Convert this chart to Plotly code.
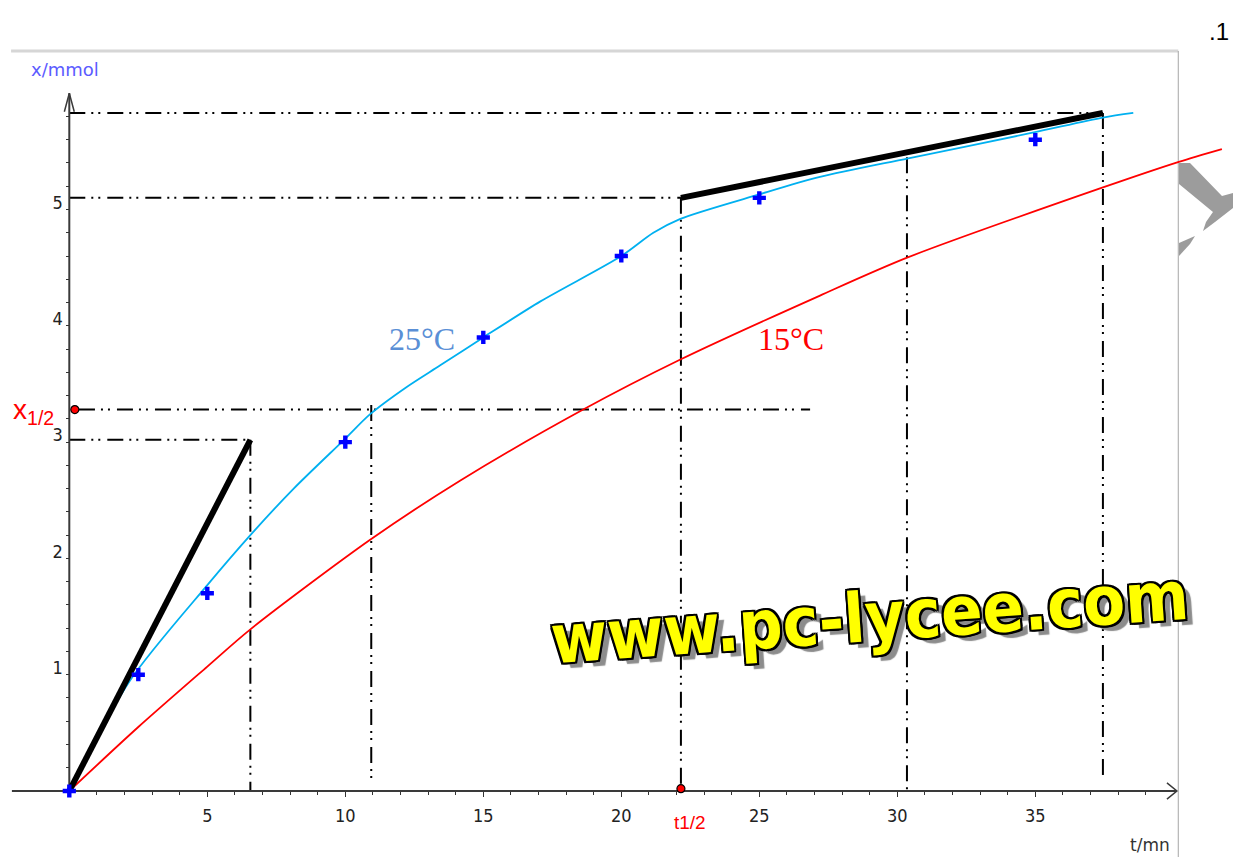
import plotly.graph_objects as go

# ---------------- data ----------------
# measured points at 25 °C (t in min, x in mmol)
t_meas = [0, 2.5, 5, 10, 15, 20, 25, 35]
x_meas = [0, 1.0, 1.7, 3.0, 3.9, 4.6, 5.1, 5.6]

# fitted curve 25 °C
t_25 = [0, 2.2, 5, 6.56, 8.13, 10, 10.9, 12.2, 13.44, 15, 17.07, 20, 21.16,
        22.14, 25, 27.2, 30.4, 34.9, 37.45, 38.55]
x_25 = [0, 0.95, 1.77, 2.20, 2.60, 3.03, 3.24, 3.47, 3.66, 3.90, 4.21, 4.60,
        4.80, 4.92, 5.13, 5.28, 5.44, 5.66, 5.79, 5.83]

# curve 15 °C
t_15 = [0, 2.5, 5, 6.56, 10.9, 14.17, 18.62, 22.14, 27.2, 30.4,
        37.45, 40.2, 41.76]
x_15 = [0, 0.55, 1.07, 1.39, 2.16, 2.67, 3.28, 3.71, 4.26, 4.59,
        5.19, 5.41, 5.52]

# tangents
t_tan1 = [0, 6.56]
x_tan1 = [0, 3.02]
t_tan2 = [22.16, 37.45]
x_tan2 = [5.10, 5.83]

# construction lines: horizontal (y, t_start, t_end), vertical (t, y_start, y_end)
h_lines = [(5.83, 0, 37.45), (5.10, 0, 22.16), (3.28, 0.35, 26.84), (3.02, 0, 6.56)]
v_lines = [(6.56, 0, 3.02), (10.94, 0.11, 3.32), (22.16, 0, 5.10),
           (30.35, 0, 5.45), (37.45, 0.095, 5.83)]

# half reaction markers
x_half = 3.28
t_half = 22.16

# ticks
x_ticks = [5, 10, 15, 20, 25, 30, 35]
y_ticks = [1, 2, 3, 4, 5]
x_minor = list(range(1, 40))
y_minor = [round(0.2 * i, 1) for i in range(1, 30)]

# ---------------- figure ----------------
X_RANGE = [-2.511, 42.163]
Y_RANGE = [-0.5675, 6.8014]
T_AX_END = 40.13
T_AX_START = -2.08
Y_AX_END = 6.0

DASH = "16px,6px,2px,5px,2px,7px"
fig = go.Figure()

for (yv, t0, t1) in h_lines:
    fig.add_trace(go.Scatter(x=[t0, t1], y=[yv, yv], mode="lines",
                             line=dict(color="black", width=2, dash=DASH),
                             hoverinfo="skip", showlegend=False))
for (tv, y0, y1) in v_lines:
    fig.add_trace(go.Scatter(x=[tv, tv], y=[y1, y0], mode="lines",
                             line=dict(color="black", width=2, dash=DASH),
                             hoverinfo="skip", showlegend=False))

# axes lines with open arrowheads
fig.add_trace(go.Scatter(x=[T_AX_START, T_AX_END], y=[0, 0], mode="lines",
                         line=dict(color="#3a3a3a", width=2),
                         hoverinfo="skip", showlegend=False))
fig.add_trace(go.Scatter(x=[T_AX_END - 0.36, T_AX_END, T_AX_END - 0.36],
                         y=[0.07, 0, -0.07], mode="lines",
                         line=dict(color="#3a3a3a", width=1.5),
                         hoverinfo="skip", showlegend=False))
fig.add_trace(go.Scatter(x=[0, 0], y=[0, Y_AX_END], mode="lines",
                         line=dict(color="#3a3a3a", width=2),
                         hoverinfo="skip", showlegend=False))
fig.add_trace(go.Scatter(x=[-0.18, 0, 0.18], y=[Y_AX_END - 0.16, Y_AX_END, Y_AX_END - 0.16],
                         mode="lines", line=dict(color="#3a3a3a", width=1.5),
                         hoverinfo="skip", showlegend=False))

# curves
fig.add_trace(go.Scatter(x=t_15, y=x_15, mode="lines",
                         line=dict(color="#ff0000", width=1.8, shape="spline", smoothing=0.8),
                         hoverinfo="skip", showlegend=False))
fig.add_trace(go.Scatter(x=t_25, y=x_25, mode="lines",
                         line=dict(color="#00b0f0", width=1.8, shape="spline", smoothing=0.8),
                         hoverinfo="skip", showlegend=False))

# tangents
fig.add_trace(go.Scatter(x=t_tan1, y=x_tan1, mode="lines",
                         line=dict(color="black", width=6),
                         hoverinfo="skip", showlegend=False))
fig.add_trace(go.Scatter(x=t_tan2, y=x_tan2, mode="lines",
                         line=dict(color="black", width=6),
                         hoverinfo="skip", showlegend=False))

# measured points
fig.add_trace(go.Scatter(x=t_meas, y=x_meas, mode="markers",
                         marker=dict(symbol="cross", size=11, color="#0000ff",
                                     line=dict(width=0)),
                         hoverinfo="skip", showlegend=False))

# red dots for x1/2 and t1/2
fig.add_trace(go.Scatter(x=[0.2, t_half], y=[x_half, 0.02], mode="markers",
                         marker=dict(symbol="circle", size=8, color="#ff0000",
                                     line=dict(color="black", width=1.2)),
                         hoverinfo="skip", showlegend=False))

# frame (light gray top border and right border)
fig.add_shape(type="line", xref="x", yref="y", x0=-2.11, x1=40.18, y0=6.363, y1=6.363,
              line=dict(color="#d6d6d6", width=3), layer="below")
fig.add_shape(type="line", xref="x", yref="y", x0=40.18, x1=40.18, y0=6.363, y1=-0.6,
              line=dict(color="#a6a6a6", width=1), layer="below")

# gray fragment of a decoration at the right edge (pixel outline converted to data)
def px2t(px):
    return (px - 69.3) / 27.6


def py2y(py):
    return (791 - py) / 116.3


frag1 = [(1179, 163), (1190, 163), (1222, 196), (1233, 193), (1233, 208),
         (1215, 222), (1203, 231), (1206, 222), (1213, 212), (1179, 184)]
frag2 = [(1179, 243), (1195, 236), (1190, 244), (1179, 256)]
for frag in (frag1, frag2):
    path = "M " + " L ".join(f"{px2t(a):.3f},{py2y(b):.3f}" for a, b in frag) + " Z"
    fig.add_shape(type="path", path=path, xref="x", yref="y",
                  fillcolor="#9c9c9c", line=dict(width=0), layer="below")

# ---------------- annotations ----------------
ann = []
ann.append(dict(x=-0.16, y=6.20, text="x/mmol", showarrow=False,
                font=dict(family="DejaVu Sans", size=18, color="#5b5bff")))
ann.append(dict(x=39.16, y=-0.46, text="t/mn", showarrow=False,
                font=dict(family="DejaVu Sans", size=17, color="#333333")))
ann.append(dict(x=41.66, y=6.53, text=".1", showarrow=False,
                font=dict(family="Liberation Sans", size=24, color="black")))
ann.append(dict(x=-1.28, y=3.26, text="x<sub>1/2</sub>", showarrow=False,
                font=dict(family="Liberation Sans", size=28, color="#ff0000")))
ann.append(dict(x=22.49, y=-0.27, text="t1/2", showarrow=False,
                font=dict(family="Liberation Sans", size=19, color="#ff0000")))
ann.append(dict(x=12.78, y=3.89, text="25°C", showarrow=False,
                font=dict(family="Liberation Serif", size=32, color="#5a8fd6")))
ann.append(dict(x=26.15, y=3.89, text="15°C", showarrow=False,
                font=dict(family="Liberation Serif", size=32, color="#ff0000")))
ann.append(dict(x=29.0, y=1.49, text="www.pc-lycee.com", showarrow=False,
                textangle=-4,
                font=dict(family="DejaVu Sans Condensed, DejaVu Sans", size=68,
                          color="#ffff00", weight="bold",
                          shadow=("-2px -2px 0 #000, 2px -2px 0 #000, -2px 2px 0 #000, "
                                  "2px 2px 0 #000, 0 2px 0 #000, 0 -2px 0 #000, "
                                  "2px 0 0 #000, -2px 0 0 #000, 7px 6px 1px #8c8c8c"))))
for a in ann:
    a.setdefault("xref", "x")
    a.setdefault("yref", "y")
fig.update_layout(annotations=ann)

tickfont = dict(family="DejaVu Sans Condensed, DejaVu Sans", size=18, color="#222222")
x_pos = (0 - Y_RANGE[0]) / (Y_RANGE[1] - Y_RANGE[0])
y_pos = (0 - X_RANGE[0]) / (X_RANGE[1] - X_RANGE[0])

fig.update_layout(
    width=1233, height=857,
    margin=dict(l=0, r=0, t=0, b=0, pad=0),
    paper_bgcolor="white", plot_bgcolor="white",
    showlegend=False,
    xaxis=dict(range=X_RANGE, anchor="free", position=x_pos, showgrid=False,
               zeroline=False, showline=False, tickmode="array", tickvals=x_ticks,
               ticks="outside", ticklen=5, tickwidth=1, tickcolor="#333333",
               tickfont=tickfont, ticklabelstandoff=3,
               minor=dict(tickmode="array", tickvals=x_minor, ticks="outside",
                          ticklen=3, tickwidth=1, tickcolor="#333333")),
    yaxis=dict(range=Y_RANGE, anchor="free", position=y_pos, showgrid=False,
               zeroline=False, showline=False, tickmode="array", tickvals=y_ticks,
               ticks="outside", ticklen=3, tickwidth=1, tickcolor="#333333",
               tickfont=tickfont, ticklabelshift=-7,
               minor=dict(tickmode="array", tickvals=y_minor, ticks="outside",
                          ticklen=3, tickwidth=1, tickcolor="#333333")),
)

fig.write_html("out.html", config={"displayModeBar": False},
               post_script="document.body.style.margin='0';document.body.style.overflow='hidden';")
